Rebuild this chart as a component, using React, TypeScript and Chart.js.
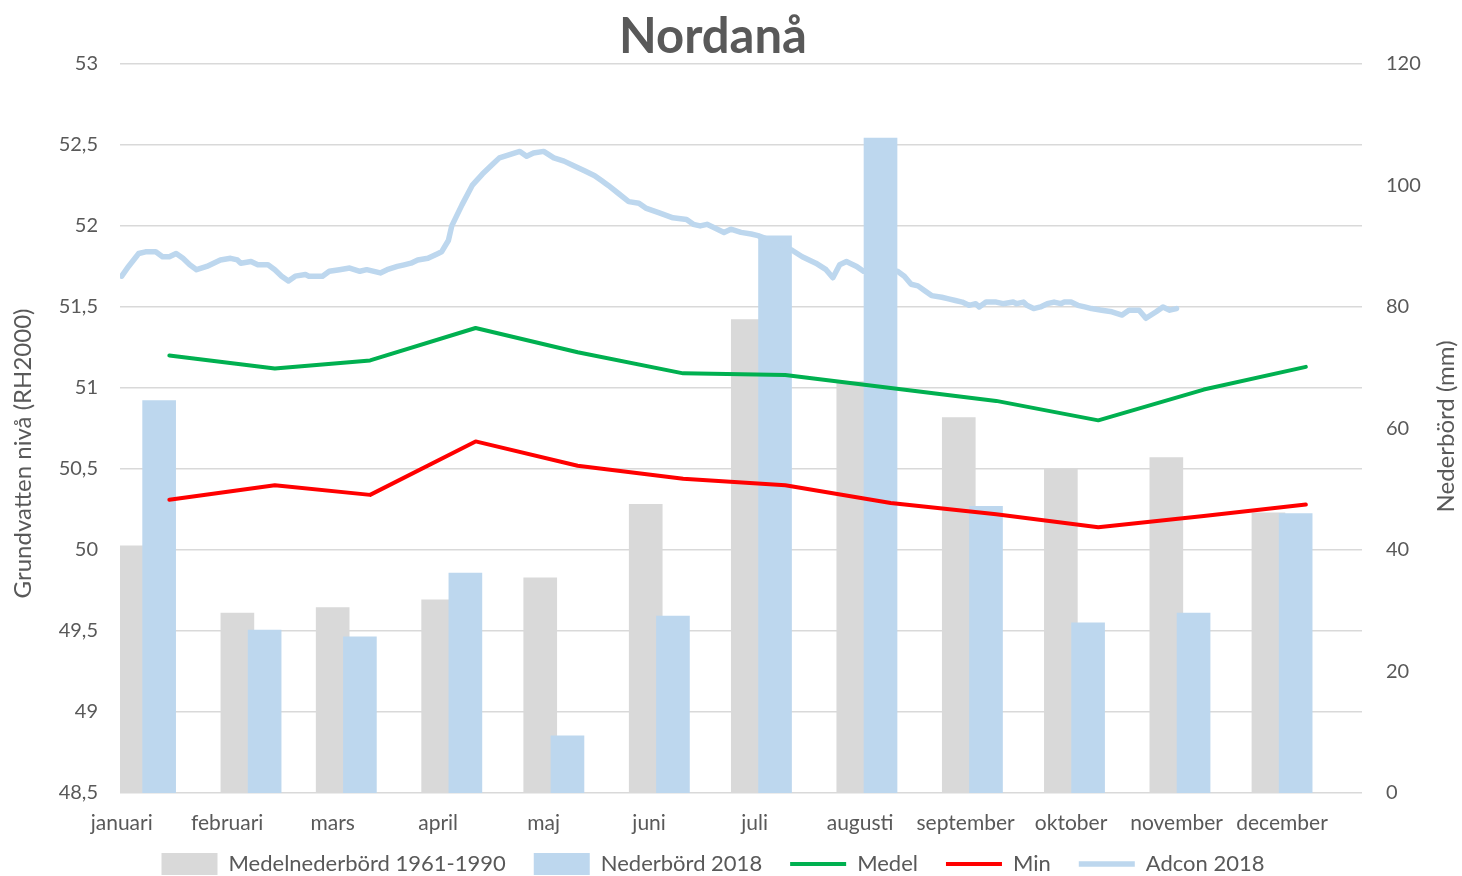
import React, { useEffect, useRef } from 'react';
import { Chart, registerables } from 'chart.js';

Chart.register(...registerables);

const W = 1462;
const H = 876;
const FONT = 'Lato';
const TEXT = '#595959';

// x axis: day of year 2018 (0 = 1 januari)
const monthLabels = ['januari', 'februari', 'mars', 'april', 'maj', 'juni', 'juli', 'augusti', 'september', 'oktober', 'november', 'december'];
const monthTickDays = [0, 31, 62, 93, 124, 155, 186, 217, 248, 279, 310, 341];

// precipitation bars (mm), dated the 8th of each month
const barDays = [7, 38, 66, 97, 127, 158, 188, 219, 250, 280, 311, 341];
const medelNederbord = [40.7, 29.6, 30.5, 31.8, 35.4, 47.5, 77.9, 67.7, 61.8, 53.4, 55.2, 46.1];
const nederbord2018 = [64.6, 26.8, 25.7, 36.2, 9.4, 29.1, 91.7, 107.8, 47.2, 28.0, 29.6, 46.0];

// groundwater level lines (m RH2000), dated the 15th of each month
const lineDays = [14, 45, 73, 104, 134, 165, 195, 226, 257, 287, 318, 348];
const medelLevel = [51.2, 51.12, 51.17, 51.37, 51.22, 51.09, 51.08, 51.0, 50.92, 50.8, 50.99, 51.13];
const minLevel = [50.31, 50.4, 50.34, 50.67, 50.52, 50.44, 50.4, 50.29, 50.22, 50.14, 50.21, 50.28];

// Adcon logger 2018
const adconDays = [
  0, 2, 5, 7, 10, 12, 14, 16, 18, 20,
  22, 25, 27, 29, 32, 34, 35, 38, 40, 43,
  45, 47, 49, 51, 54, 55, 59, 61, 64, 67,
  70, 72, 76, 78, 81, 83, 85, 87, 90, 93,
  94, 96, 97, 100, 103, 106, 109, 111, 114, 117,
  119, 121, 124, 127, 130, 133, 136, 139, 141, 143,
  146, 149, 152, 154, 158, 162, 166, 168, 170, 172,
  174, 177, 179, 182, 185, 187, 192, 197, 200, 204,
  207, 209, 211, 213, 214, 216, 218, 228, 230, 232,
  234, 236, 238, 241, 243, 245, 247, 249, 251, 252,
  254, 257, 259, 262, 263, 265, 266, 268, 270, 272,
  274, 276, 277, 279, 281, 283, 285, 288, 291, 294,
  296, 299, 301, 304, 306, 308, 310,
];
const adconLevels = [
  51.69, 51.75, 51.83, 51.84, 51.84, 51.81, 51.81, 51.83, 51.8, 51.76,
  51.73, 51.75, 51.77, 51.79, 51.8, 51.79, 51.77, 51.78, 51.76, 51.76,
  51.73, 51.69, 51.66, 51.69, 51.7, 51.69, 51.69, 51.72, 51.73, 51.74,
  51.72, 51.73, 51.71, 51.73, 51.75, 51.76, 51.77, 51.79, 51.8, 51.83,
  51.84, 51.91, 52.0, 52.13, 52.25, 52.32, 52.38, 52.42, 52.44, 52.46,
  52.43, 52.45, 52.46, 52.42, 52.4, 52.37, 52.34, 52.31, 52.28, 52.25,
  52.2, 52.15, 52.14, 52.11, 52.08, 52.05, 52.04, 52.01, 52.0, 52.01,
  51.99, 51.96, 51.98, 51.96, 51.95, 51.94, 51.9, 51.85, 51.81, 51.77,
  51.73, 51.68, 51.76, 51.78, 51.77, 51.75, 51.72, 51.72, 51.69, 51.64,
  51.63, 51.6, 51.57, 51.56, 51.55, 51.54, 51.53, 51.51, 51.52, 51.5,
  51.53, 51.53, 51.52, 51.53, 51.52, 51.53, 51.51, 51.49, 51.5, 51.52,
  51.53, 51.52, 51.53, 51.53, 51.51, 51.5, 51.49, 51.48, 51.47, 51.45,
  51.48, 51.48, 51.43, 51.47, 51.5, 51.48, 51.49,
];

const TITLE = 'Nordanå';
const LEFT_TITLE = 'Grundvatten nivå (RH2000)';
const RIGHT_TITLE = 'Nederbörd (mm)';

const X_MIN = -0.5;
const X_MAX = 364.5;
const BAR_SHIFT = 4; // overlap offset of the two bar series, in days

const axisTitlePlugin = {
  id: 'axisTitles',
  afterLayout(chart: any) {
    // let the month labels draw below the (compact) x-axis box without clipping
    const s = chart.scales.x;
    if (s) s.bottom = s.top + 60;
  },
  afterDraw(chart: any) {
    const { ctx, chartArea } = chart;
    const mid = (chartArea.top + chartArea.bottom) / 2;
    const draw = (text: string, x: number, y: number) => {
      ctx.save();
      ctx.fillStyle = TEXT;
      ctx.font = `24px ${FONT}`;
      ctx.textAlign = 'center';
      ctx.textBaseline = 'middle';
      ctx.translate(x, y);
      ctx.rotate(-Math.PI / 2);
      ctx.fillText(text, 0, 0);
      ctx.restore();
    };
    draw(LEFT_TITLE, chartArea.left - 97, mid + 25);
    draw(RIGHT_TITLE, chartArea.right + 84, mid - 2);
  },
};

const hiddenBarAxis = (shift: number) => ({
  type: 'linear',
  display: false,
  offset: false,
  min: X_MIN + shift,
  max: X_MAX + shift,
  afterBuildTicks: (s: any) => {
    s.ticks = barDays.map((v) => ({ value: v }));
  },
  ticks: { display: false },
  grid: { display: false },
});

export default function App() {
  const ref = useRef<HTMLCanvasElement>(null);

  useEffect(() => {
    document.body.style.margin = '0';
    const canvas = ref.current;
    if (!canvas) return;
    const barCommon = {
      type: 'bar',
      borderWidth: 0,
      yAxisID: 'yR',
      grouped: false,
      maxBarThickness: 33,
      categoryPercentage: 1,
      barPercentage: 1,
      clip: 0,
    };
    const lineCommon = {
      type: 'line',
      pointRadius: 0,
      pointHoverRadius: 0,
      tension: 0,
      borderCapStyle: 'round',
      borderJoinStyle: 'round',
      xAxisID: 'x',
      yAxisID: 'yL',
      order: 0,
    };
    const chart = new Chart(canvas, {
      type: 'line',
      data: {
        datasets: [
          {
            ...barCommon,
            label: 'Medelnederbörd 1961-1990',
            data: barDays.map((d, i) => ({ x: d, y: medelNederbord[i] })),
            backgroundColor: '#d9d9d9',
            xAxisID: 'xg',
            order: 2,
          },
          {
            ...barCommon,
            label: 'Nederbörd 2018',
            data: barDays.map((d, i) => ({ x: d, y: nederbord2018[i] })),
            backgroundColor: '#bdd7ee',
            xAxisID: 'xb',
            order: 1,
          },
          {
            ...lineCommon,
            label: 'Medel',
            data: lineDays.map((d, i) => ({ x: d, y: medelLevel[i] })),
            borderColor: '#00b050',
            backgroundColor: '#00b050',
            borderWidth: 4,
          },
          {
            ...lineCommon,
            label: 'Min',
            data: lineDays.map((d, i) => ({ x: d, y: minLevel[i] })),
            borderColor: '#ff0000',
            backgroundColor: '#ff0000',
            borderWidth: 4,
          },
          {
            ...lineCommon,
            label: 'Adcon 2018',
            data: adconDays.map((d, i) => ({ x: d, y: adconLevels[i] })),
            borderColor: '#bdd7ee',
            backgroundColor: '#bdd7ee',
            borderWidth: 5.5,
          },
        ] as any,
      },
      options: {
        responsive: false,
        animation: false,
        devicePixelRatio: 1,
        layout: { padding: { left: 0, right: 36, top: 0, bottom: -9 } },
        scales: {
          x: {
            type: 'linear',
            position: 'bottom',
            min: X_MIN,
            max: X_MAX,
            offset: false,
            afterBuildTicks: (s: any) => {
              s.ticks = monthTickDays.map((v) => ({ value: v }));
            },
            afterFit: (s: any) => {
              s.height = 32;
            },
            ticks: {
              autoSkip: false,
              maxRotation: 0,
              minRotation: 0,
              padding: 18,
              color: TEXT,
              font: { family: FONT, size: 21 },
              callback: (_v: any, i: number) => monthLabels[i],
            },
            grid: { display: false, drawTicks: false },
            border: { display: false },
          },
          xg: hiddenBarAxis(BAR_SHIFT),
          xb: hiddenBarAxis(-BAR_SHIFT),
          yL: {
            type: 'linear',
            position: 'left',
            min: 48.5,
            max: 53,
            afterFit: (s: any) => {
              s.width = 120;
            },
            ticks: {
              stepSize: 0.5,
              padding: 22,
              color: TEXT,
              font: { family: FONT, size: 20 },
              callback: (v: any) => String(v).replace('.', ','),
            },
            grid: { color: '#d9d9d9', lineWidth: 1.5, drawTicks: false },
            border: { display: false },
          },
          yR: {
            type: 'linear',
            position: 'right',
            min: 0,
            max: 120,
            afterFit: (s: any) => {
              s.width = 64;
            },
            ticks: {
              stepSize: 20,
              padding: 24,
              color: TEXT,
              font: { family: FONT, size: 20 },
            },
            grid: { display: false, drawTicks: false },
            border: { display: false },
          },
        },
        plugins: {
          title: {
            display: true,
            text: TITLE,
            color: TEXT,
            font: { family: FONT, size: 49, weight: 'bold', lineHeight: 1.1 },
            padding: { top: 10, bottom: 0 },
          },
          legend: {
            position: 'bottom',
            labels: {
              usePointStyle: true,
              pointStyleWidth: 56,
              boxHeight: 22,
              padding: 28,
              color: TEXT,
              font: { family: FONT, size: 22 },
              sort: (a: any, b: any) => a.datasetIndex - b.datasetIndex,
              generateLabels: (c: any) => {
                const base = (Chart.defaults as any).plugins.legend.labels.generateLabels(c);
                return base.map((item: any) => {
                  const ds: any = c.data.datasets[item.datasetIndex];
                  if (ds.type === 'bar') {
                    return { ...item, pointStyle: 'rect', fillStyle: ds.backgroundColor, strokeStyle: ds.backgroundColor, lineWidth: 0 };
                  }
                  return { ...item, pointStyle: 'line', fillStyle: ds.borderColor, strokeStyle: ds.borderColor, lineWidth: ds.borderWidth, lineCap: 'butt' };
                });
              },
            },
          },
          tooltip: { enabled: false },
        },
      } as any,
      plugins: [axisTitlePlugin],
    });
    return () => chart.destroy();
  }, []);

  return (
    <div style={{ position: 'absolute', left: 0, top: 0, width: W, height: H, background: '#ffffff' }}>
      <canvas ref={ref} width={W} height={H} style={{ display: 'block', width: W, height: H }} />
    </div>
  );
}
